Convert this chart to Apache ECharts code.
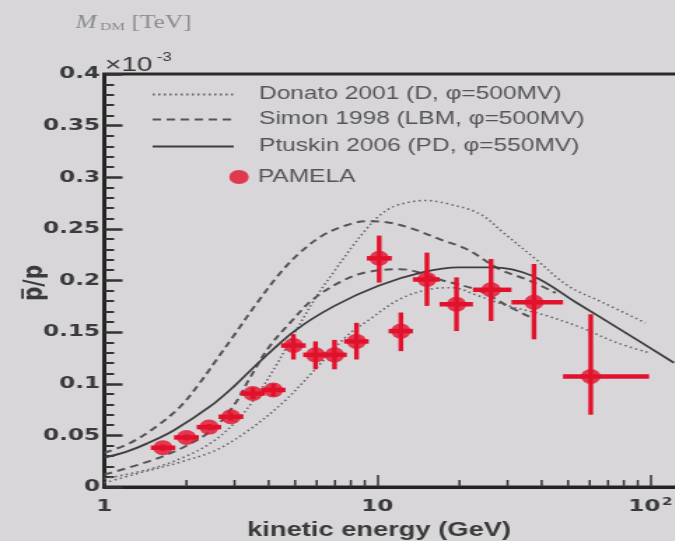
<!DOCTYPE html>
<html><head><meta charset="utf-8">
<script src="https://cdn.jsdelivr.net/npm/echarts@6/dist/echarts.min.js"></script>
<style>
html,body{margin:0;padding:0;width:675px;height:541px;overflow:hidden;
background:#d8d6d9;}
#wrap{position:absolute;left:0;top:0;width:482.142857px;height:541px;transform:scaleX(1.4);transform-origin:0 0;}
#chart{width:100%;height:100%;}
</style></head><body><div id="wrap"><div id="chart"></div></div>
<script>
// ---------- data (ratio in units of 10^-3) ----------
const solidX = [1, 1.2, 1.445, 1.8, 2.44, 3.0, 3.53, 4.97, 6.97, 10.1, 14.6, 19.9, 26.3, 36.9, 53.5, 77.5, 122];
const solidY = [0.0285, 0.034, 0.0425, 0.055, 0.078, 0.098, 0.116, 0.151, 0.1754, 0.1949, 0.2078, 0.2127, 0.2127, 0.2046, 0.1787, 0.1527, 0.1203];

const dashUpX = [1, 1.25, 1.56, 1.9, 2.24, 2.58, 2.97, 3.62, 4.4, 5.21, 6.34, 7.71, 9.13, 10.8, 13.5, 16.9, 21.2, 28, 36, 45];
const dashUpY = [0.033, 0.043, 0.059, 0.078, 0.101, 0.1235, 0.146, 0.178, 0.207, 0.227, 0.244, 0.2535, 0.2575, 0.2565, 0.25, 0.24, 0.2305, 0.211, 0.2, 0.188];

const dashLoX = [1, 1.5, 2, 2.5, 3, 3.42, 4.0, 4.79, 5.83, 7.5, 9.13, 12.1, 17.4, 23.7, 29.7, 36];
const dashLoY = [0.012, 0.026, 0.04, 0.056, 0.08, 0.106, 0.135, 0.159, 0.182, 0.2, 0.208, 0.211, 0.2, 0.19, 0.176, 0.165];

const dotUpX = [1, 1.5, 2, 2.5, 3, 3.5, 4.2, 5, 6, 7, 8, 9, 10.2, 11.75, 15, 18, 23.7, 28.8, 38, 50, 67, 96];
const dotUpY = [0.008, 0.018, 0.03, 0.044, 0.062, 0.083, 0.115, 0.15, 0.185, 0.21, 0.231, 0.248, 0.263, 0.2727, 0.2775, 0.2745, 0.2646, 0.2468, 0.2208, 0.1948, 0.1787, 0.159];

const dotLoX = [1, 1.28, 1.95, 2.58, 3.42, 4.52, 5.83, 7.72, 9.39, 12.1, 15.6, 18.9, 23, 28.8, 41.5, 55, 75, 99];
const dotLoY = [0.004, 0.012, 0.025, 0.036, 0.056, 0.082, 0.112, 0.146, 0.1625, 0.182, 0.1916, 0.193, 0.186, 0.177, 0.166, 0.155, 0.14, 0.13];

const pamX   = [1.64, 2.00, 2.42, 2.91, 3.50, 4.16, 4.93, 5.94, 6.97, 8.39, 10.16, 12.2, 15.2, 19.5, 26.1, 37.5, 60.5];
const pamY   = [0.038, 0.048, 0.058, 0.068, 0.0905, 0.094, 0.137, 0.128, 0.128, 0.141, 0.2215, 0.151, 0.201, 0.177, 0.191, 0.179, 0.107];
const pamXLo = [1.48, 1.80, 2.18, 2.62, 3.15, 3.75, 4.44, 5.35, 6.28, 7.56, 9.16, 11.0, 13.5, 16.9, 22.4, 31.0, 47.9];
const pamXHi = [1.82, 2.22, 2.68, 3.23, 3.88, 4.61, 5.47, 6.59, 7.73, 9.30, 11.3, 13.5, 16.9, 22.4, 31.0, 47.9, 99];
const pamYLo = [0.035, 0.045, 0.055, 0.064, 0.085, 0.088, 0.1235, 0.114, 0.114, 0.1235, 0.198, 0.1316, 0.1754, 0.151, 0.1608, 0.143, 0.070];
const pamYHi = [0.041, 0.051, 0.061, 0.072, 0.096, 0.100, 0.148, 0.141, 0.1425, 0.159, 0.2435, 0.169, 0.227, 0.203, 0.2208, 0.216, 0.1673];

const xMinorTicks = [2, 3, 4, 5, 6, 7, 8, 9, 20, 30, 40, 50, 60, 70, 80, 90];

const nameD = 'Donato 2001 (D, φ=500MV)';
const nameS = 'Simon 1998 (LBM, φ=500MV)';
const nameP = 'Ptuskin 2006 (PD, φ=550MV)';
const nameM = 'PAMELA';

// ---------- chart ----------
const zip = (a, b) => a.map((v, i) => [v, b[i]]);
const RED = '#e2112c';
const chart = echarts.init(document.getElementById('chart'), null, {renderer: 'canvas'});

const lineBase = {type: 'line', smooth: 0.35, symbol: 'none', showSymbol: false, z: 2, silent: true};

const legendText = {color: '#555', fontSize: 17.5, fontFamily: 'Liberation Sans, Arial, sans-serif'};
function lg(name, top, left, w, pad, hideSymbol) {
  const o = {data: [name], top: top, left: left, itemWidth: w, itemHeight: 14, padding: 0,
    selectedMode: false, orient: 'vertical',
    textStyle: Object.assign({}, legendText, {padding: [0, 0, 0, pad]})};
  if (hideSymbol) o.itemStyle = {opacity: 0};
  return o;
}

const option = {
  animation: false,
  backgroundColor: 'transparent',
  grid: {left: 74.5, right: -2, top: 74, bottom: 54, containLabel: false, outerBoundsMode: 'none',
    show: true, borderColor: '#2a2a2a', borderWidth: 3, backgroundColor: 'transparent'},
  legend: [
    lg(nameD, 85.5, 108, 58, 13, true),
    lg(nameS, 110.5, 108, 58, 13, true),
    lg(nameP, 137.5, 108, 58, 13, true),
    lg(nameM, 168, 163.7, 14, 1.5, false)
  ],
  xAxis: {
    type: 'log', logBase: 10, min: 1, max: 125.9,
    axisLine: {show: true, lineStyle: {color: '#222', width: 3}},
    axisTick: {show: true, inside: true, length: 12, lineStyle: {color: '#333', width: 1.5}},
    minorTick: {show: false},
    splitLine: {show: false},
    axisLabel: {
      showMaxLabel: false, margin: 10, color: '#3a3a3a',
      formatter: function (v) {
        const r = Math.round(v);
        if (r === 100) return '{b|10}{s|2}';
        return '{b|' + r + '}';
      },
      rich: {
        b: {fontSize: 16.5, fontWeight: 'bold', fontFamily: 'DejaVu Sans, sans-serif', color: '#3a3a3a', lineHeight: 20},
        s: {fontSize: 11, fontWeight: 'bold', fontFamily: 'DejaVu Sans, sans-serif', color: '#3a3a3a', lineHeight: 20, verticalAlign: 'top', padding: [0, 0, 8, 1]}
      }
    },
    name: 'kinetic energy (GeV)', nameLocation: 'middle', nameGap: 26,
    nameTextStyle: {fontSize: 19.5, fontWeight: 'bold', fontFamily: 'Liberation Sans, Arial, sans-serif', color: '#3a3a3a', padding: [0, 17, 0, 0]}
  },
  yAxis: {
    type: 'value', min: 0, max: 0.4, interval: 0.05,
    axisLine: {show: true, lineStyle: {color: '#222', width: 2}},
    axisTick: {show: true, inside: true, length: 13, lineStyle: {color: '#333', width: 2.5}},
    minorTick: {show: true, splitNumber: 5, length: 7, lineStyle: {color: '#333', width: 2}},
    splitLine: {show: false},
    axisLabel: {margin: 3, color: '#3a3a3a', fontSize: 16.5, fontWeight: 'bold', fontFamily: 'DejaVu Sans, sans-serif'}
  },
  series: [
    Object.assign({}, lineBase, {name: nameD, data: zip(dotUpX, dotUpY), lineStyle: {color: '#666', width: 1.6, type: [1.5, 2.5]}, itemStyle: {color: '#666'}}),
    Object.assign({}, lineBase, {name: nameD, data: zip(dotLoX, dotLoY), lineStyle: {color: '#666', width: 1.6, type: [1.5, 2.5]}, itemStyle: {color: '#666'}}),
    Object.assign({}, lineBase, {name: nameS, data: zip(dashUpX, dashUpY), lineStyle: {color: '#555', width: 2, type: [6, 4]}, itemStyle: {color: '#555'}}),
    Object.assign({}, lineBase, {name: nameS, data: zip(dashLoX, dashLoY), lineStyle: {color: '#555', width: 2, type: [6, 4]}, itemStyle: {color: '#555'}}),
    Object.assign({}, lineBase, {name: nameP, data: zip(solidX, solidY), lineStyle: {color: '#3e3e3e', width: 1.8, type: 'solid'}, itemStyle: {color: '#3e3e3e'}}),
    {
      type: 'custom', name: 'PAMELA errors', z: 3, silent: true,
      data: pamX.map((x, i) => [x, pamY[i], pamXLo[i], pamXHi[i], pamYLo[i], pamYHi[i]]),
      encode: {x: 0, y: 1},
      renderItem: function (params, api) {
        const c = api.coord([api.value(0), api.value(1)]);
        const l = api.coord([api.value(2), api.value(1)]);
        const r = api.coord([api.value(3), api.value(1)]);
        const lo = api.coord([api.value(0), api.value(4)]);
        const hi = api.coord([api.value(0), api.value(5)]);
        return {type: 'group', children: [
          {type: 'line', shape: {x1: c[0], y1: lo[1], x2: c[0], y2: hi[1]}, style: {stroke: RED, lineWidth: 3.4}},
          {type: 'line', shape: {x1: l[0], y1: c[1], x2: r[0], y2: c[1]}, style: {stroke: RED, lineWidth: 4.5}}
        ]};
      }
    },
    {type: 'scatter', name: nameM, z: 4, silent: true, data: zip(pamX, pamY), symbol: 'circle', symbolSize: [14, 15], itemStyle: {color: RED}},
    {
      type: 'custom', name: 'minor ticks', z: 5, silent: true,
      data: xMinorTicks.map(v => [v, 0]),
      encode: {x: 0, y: 1},
      renderItem: function (params, api) {
        const p = api.coord([api.value(0), 0]);
        return {type: 'line', shape: {x1: p[0], y1: p[1], x2: p[0], y2: p[1] - 7}, style: {stroke: '#333', lineWidth: 1.5}};
      }
    }
  ],
  graphic: [
    {type: 'text', x: 25, y: 283, rotation: Math.PI / 2,
      style: {text: 'p\u0305/p', font: 'bold 20px "DejaVu Sans", sans-serif', fill: '#3a3a3a', align: 'center', verticalAlign: 'middle'}},
    {type: 'text', x: 75, y: 65, style: {text: '×10', font: '20px "Liberation Sans", Arial, sans-serif', fill: '#3a3a3a', align: 'left', verticalAlign: 'middle'}},
    {type: 'text', x: 112, y: 58, style: {text: '-3', font: '12px "Liberation Sans", Arial, sans-serif', fill: '#3a3a3a', align: 'left', verticalAlign: 'middle'}},
    {type: 'text', x: 54, y: 23, style: {text: 'M', font: 'italic 18px "Liberation Serif", serif', fill: '#8a8a8a', align: 'left', verticalAlign: 'middle'}},
    {type: 'text', x: 71.5, y: 27, style: {text: 'DM', font: '11px "Liberation Serif", serif', fill: '#8a8a8a', align: 'left', verticalAlign: 'middle'}},
    {type: 'text', x: 94, y: 23, style: {text: '[TeV]', font: '18px "Liberation Serif", serif', fill: '#8a8a8a', align: 'left', verticalAlign: 'middle'}}
  ]
};
chart.setOption(option);
</script></body></html>
